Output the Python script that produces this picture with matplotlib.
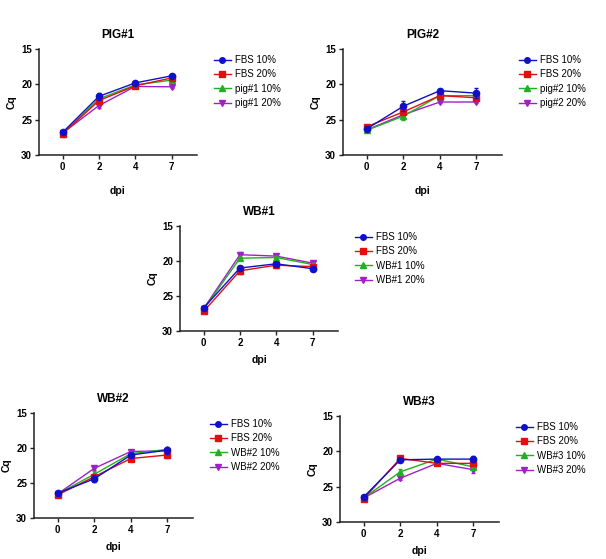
import numpy as np
import matplotlib
matplotlib.use("Agg")
import matplotlib.pyplot as plt
from matplotlib.lines import Line2D

plt.rcParams["font.family"] = ["Liberation Sans", "DejaVu Sans"]

dpi_labels = ["0", "2", "4", "7"]
titles = ["PIG#1", "PIG#2", "WB#1", "WB#2", "WB#3"]

# Cq values per panel: FBS 10%, FBS 20%, sample 10%, sample 20%
pig1 = [[26.8, 21.7, 19.8, 18.8],
        [27.0, 22.3, 20.2, 19.1],
        [27.0, 22.05, 20.1, 19.4],
        [26.9, 23.0, 20.3, 20.35]]
pig1_err = [[0.1, 0.5, 0.2, 0.2], [0.1, 0.3, 0.1, 0.1], [0.1, 0.3, 0.1, 0.1], [0.1, 0.4, 0.1, 0.1]]

pig2 = [[26.3, 23.1, 20.9, 21.25],
        [26.0, 23.9, 21.6, 21.9],
        [26.5, 24.5, 21.6, 21.6],
        [26.45, 24.3, 22.5, 22.5]]
pig2_err = [[0.1, 0.7, 0.2, 0.7], [0.1, 0.3, 0.2, 0.3], [0.1, 0.6, 0.2, 0.2], [0.1, 0.2, 0.2, 0.2]]

wb1 = [[26.7, 21.0, 20.4, 21.1],
       [27.2, 21.4, 20.6, 20.8],
       [26.9, 19.6, 19.5, 20.5],
       [26.8, 19.1, 19.3, 20.3]]
wb1_err = [[0.1, 0.3, 0.3, 0.3], [0.1, 0.4, 0.4, 0.2], [0.1, 0.2, 0.2, 0.2], [0.1, 0.4, 0.2, 0.2]]

wb2 = [[26.45, 24.4, 21.0, 20.3],
       [26.7, 24.1, 21.5, 21.0],
       [26.55, 23.75, 20.8, 20.2],
       [26.55, 22.9, 20.5, 20.4]]
wb2_err = [[0.1, 0.5, 0.2, 0.5], [0.1, 0.2, 0.2, 0.4], [0.1, 0.4, 0.2, 0.2], [0.1, 0.2, 0.2, 0.2]]

wb3 = [[26.45, 21.2, 21.1, 21.1],
       [26.7, 21.0, 21.7, 21.7],
       [26.6, 22.9, 21.1, 22.2],
       [26.6, 23.8, 21.7, 22.6]]
wb3_err = [[0.1, 0.2, 0.2, 0.4], [0.1, 0.2, 0.2, 0.2], [0.1, 0.4, 0.2, 0.2], [0.1, 0.2, 0.2, 0.5]]

series_names = [["FBS 10%", "FBS 20%", "pig#1 10%", "pig#1 20%"],
                ["FBS 10%", "FBS 20%", "pig#2 10%", "pig#2 20%"],
                ["FBS 10%", "FBS 20%", "WB#1 10%", "WB#1 20%"],
                ["FBS 10%", "FBS 20%", "WB#2 10%", "WB#2 20%"],
                ["FBS 10%", "FBS 20%", "WB#3 10%", "WB#3 20%"]]

colors = ["#1010c8", "#e01010", "#20b020", "#a020c8"]
markers = ["o", "s", "^", "v"]
zorders = [6, 5, 4, 3]

# axes boxes in pixels: left, bottom-from-top, width, height
boxes = [(39, 155, 158, 106), (343, 155, 159, 106), (180, 331, 158, 105),
         (34, 518, 159, 105), (340, 522, 159, 106)]
xlabel_pads = [10, 10, 5, 5, 5]

data = [pig1, pig2, wb1, wb2, wb3]
errs = [pig1_err, pig2_err, wb1_err, wb2_err, wb3_err]

W, H = 606, 559
fig = plt.figure(figsize=(W / 100, H / 100), dpi=100)

for title, vals, err, names, (l, b, w, h), lp in zip(titles, data, errs, series_names, boxes, xlabel_pads):
    ax = fig.add_axes([l / W, 1 - b / H, w / W, h / H])
    x = np.arange(len(dpi_labels))
    handles = []
    for k in range(4):
        ax.errorbar(x, vals[k], yerr=err[k], color=colors[k], marker=markers[k],
                    markersize=4.5, lw=1.0, elinewidth=0.8, capsize=1.5,
                    zorder=zorders[k])
        handles.append(Line2D([], [], color=colors[k], marker=markers[k],
                              markersize=4, lw=1.0, label=names[k]))
    ax.set_ylim(30, 15)
    ax.set_yticks([15, 20, 25, 30])
    ax.set_xlim(-0.65, 3.7)
    ax.set_xticks(x)
    ax.set_xticklabels(dpi_labels)
    for s in ["top", "right"]:
        ax.spines[s].set_visible(False)
    for s in ["left", "bottom"]:
        ax.spines[s].set_linewidth(1.1)
        ax.spines[s].set_color("#222222")
    ax.tick_params(axis="both", length=3, width=1, labelsize=7, pad=2, color="#222222")
    for t in ax.get_xticklabels() + ax.get_yticklabels():
        t.set_fontweight("bold")
    ax.set_title(title, fontsize=8.5, fontweight="bold", pad=8)
    ax.set_xlabel("dpi", fontsize=7.5, fontweight="bold", labelpad=lp)
    ax.set_ylabel("Cq", fontsize=7.5, fontweight="bold", labelpad=3)
    ax.legend(handles=handles, loc="upper left", bbox_to_anchor=(1.08, 0.98),
              frameon=False, fontsize=7, handlelength=1.8, handletextpad=0.4,
              labelspacing=0.45, borderaxespad=0)

fig.savefig("out.png", dpi=100)
